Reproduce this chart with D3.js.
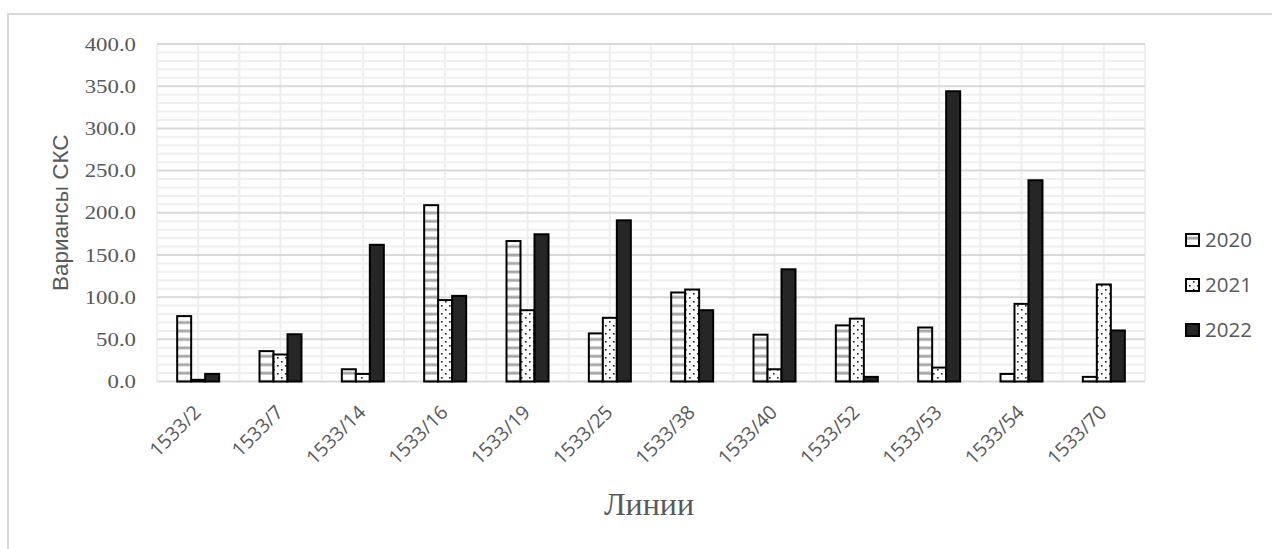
<!DOCTYPE html>
<html><head><meta charset="utf-8">
<script src="https://cdn.jsdelivr.net/npm/d3@7"></script>
<style>body{margin:0;background:#fff}svg{display:block}</style>
</head><body>
<svg id="c" width="1272" height="549"></svg>
<script>
const categories = ["1533/2","1533/7","1533/14","1533/16","1533/19","1533/25","1533/38","1533/40","1533/52","1533/53","1533/54","1533/70"];
const seriesNames = ["2020","2021","2022"];
const values2020 = [77.5, 36, 14.5, 209, 166.5, 57, 105.5, 55.5, 66.5, 64, 9, 5.5];
const values2021 = [2, 32, 9, 96.5, 84.5, 75.5, 109, 14.5, 74.5, 16.5, 92, 115];
const values2022 = [9, 56, 162, 101.5, 174.5, 191, 84.5, 133, 5.5, 344, 238.5, 60.5];
const yTicks = [0,50,100,150,200,250,300,350,400];

const svg = d3.select("#c");
const M = {left:157, right:1145, top:44, bottom:381.5};
const y = d3.scaleLinear().domain([0,400]).range([M.bottom, M.top]);
const x0 = d3.scaleBand().domain(categories).range([M.left, M.right]).padding(0);
const bw = x0.bandwidth();
const x1 = d3.scaleBand().domain(seriesNames).range([bw*0.245, bw*0.755]).padding(0);

// frame
svg.append("line").attr("x1",8).attr("x2",1272).attr("y1",14).attr("y2",14).attr("stroke","#d9d9d9").attr("stroke-width",2);
svg.append("line").attr("x1",8).attr("x2",8).attr("y1",13).attr("y2",549).attr("stroke","#d9d9d9").attr("stroke-width",2);

const defs = svg.append("defs");
const step = y(0) - y(10);
const p1 = defs.append("pattern").attr("id","pStripe").attr("patternUnits","userSpaceOnUse")
  .attr("width",8).attr("height",step).attr("patternTransform",`translate(0,${y(0)})`);
p1.append("rect").attr("width",8).attr("height",step).attr("fill","#fff");
p1.append("rect").attr("y",-1.3).attr("width",8).attr("height",2.8).attr("fill","#a6a6a6");
p1.append("rect").attr("y",step-1.3).attr("width",8).attr("height",2.8).attr("fill","#a6a6a6");
const p2 = defs.append("pattern").attr("id","pDots").attr("patternUnits","userSpaceOnUse")
  .attr("width",8).attr("height",8);
p2.append("rect").attr("width",8).attr("height",8).attr("fill","#fff");
p2.append("rect").attr("x",1).attr("y",1).attr("width",1.6).attr("height",1.6).attr("fill","#222");
p2.append("rect").attr("x",5).attr("y",5).attr("width",1.6).attr("height",1.6).attr("fill","#222");
const fills = {"2020":"url(#pStripe)","2021":"url(#pDots)","2022":"#262626"};

// minor horizontal gridlines
const g = svg.append("g");
g.selectAll("line.minor").data(d3.range(0,401,10).filter(v=>v%50!==0)).join("line")
  .attr("x1",M.left).attr("x2",M.right).attr("y1",d=>y(d)).attr("y2",d=>y(d))
  .attr("stroke","#efefef").attr("stroke-width",2);
// vertical gridlines
const vx = [];
categories.forEach(c=>{vx.push(x0(c)); vx.push(x0(c)+bw/2);});
vx.push(M.right);
g.selectAll("line.v").data(vx).join("line")
  .attr("x1",d=>d).attr("x2",d=>d).attr("y1",M.top).attr("y2",M.bottom)
  .attr("stroke","#efefef").attr("stroke-width",2);
// major
g.selectAll("line.major").data(yTicks.filter(v=>v>0)).join("line")
  .attr("x1",M.left).attr("x2",M.right).attr("y1",d=>y(d)).attr("y2",d=>y(d))
  .attr("stroke","#d9d9d9").attr("stroke-width",2);
// axis baseline
svg.append("line").attr("x1",M.left).attr("x2",M.right).attr("y1",y(0)).attr("y2",y(0))
  .attr("stroke","#d9d9d9").attr("stroke-width",2);

// y axis
const yAxis = d3.axisLeft(y).tickValues(yTicks).tickFormat(d3.format(".1f")).tickSize(0).tickPadding(0);
const ya = svg.append("g").attr("transform",`translate(${M.left},0)`).call(yAxis);
ya.attr("font-family",null).attr("font-size",null);
ya.select(".domain").remove();
ya.selectAll("text").attr("x",0).attr("transform","translate(-21,0) scale(1.2,1)")
  .style("font-family","'Liberation Serif', 'Times New Roman', serif").style("font-size","19px").attr("fill","#595959");

// bars
const series = [values2020, values2021, values2022];
const gb = svg.append("g");
categories.forEach((c,i)=>{
  seriesNames.forEach((s,j)=>{
    const v = series[j][i];
    gb.append("rect").attr("x",x0(c)+x1(s)).attr("y",y(v)).attr("width",x1.bandwidth()).attr("height",y(0)-y(v))
      .attr("fill",fills[s]).attr("stroke","#000").attr("stroke-width",2);
  });
});

// x axis labels
const xAxis = d3.axisBottom(x0).tickSize(0).tickPadding(0);
const xa = svg.append("g").attr("transform",`translate(0,${y(0)})`).call(xAxis);
xa.attr("font-family",null).attr("font-size",null);
xa.select(".domain").remove();
xa.selectAll("text").style("font-family","'Open Sans', 'Liberation Sans', sans-serif").style("font-size","19.5px")
  .attr("fill","#595959").attr("text-anchor","end").attr("dy",0)
  .attr("transform","translate(4,32) rotate(-45)");

// axis titles
svg.append("text").attr("transform",`translate(68,${(M.top+M.bottom)/2}) rotate(-90)`)
  .attr("text-anchor","middle").style("font-family","'Liberation Sans', Arial, sans-serif").style("font-size","22.5px")
  .attr("fill","#595959").text("Вариансы СКС");
svg.append("text").attr("x",649).attr("y",515).attr("text-anchor","middle")
  .style("font-family","'Liberation Serif', serif").style("font-size","32px").attr("fill","#595959").text("Линии");

// legend
const lg = svg.append("g");
const ly = [240, 285, 330];
seriesNames.forEach((s,j)=>{
  lg.append("rect").attr("x",1186).attr("y",ly[j]-6).attr("width",13).attr("height",12)
    .attr("fill",fills[s]).attr("stroke","#000").attr("stroke-width",2);
  lg.append("text").attr("x",1205).attr("y",ly[j]).attr("dy","0.35em")
    .style("font-family","'Open Sans', 'Liberation Sans', sans-serif").style("font-size","20.5px").attr("fill","#595959").text(s);
});
</script>
</body></html>
